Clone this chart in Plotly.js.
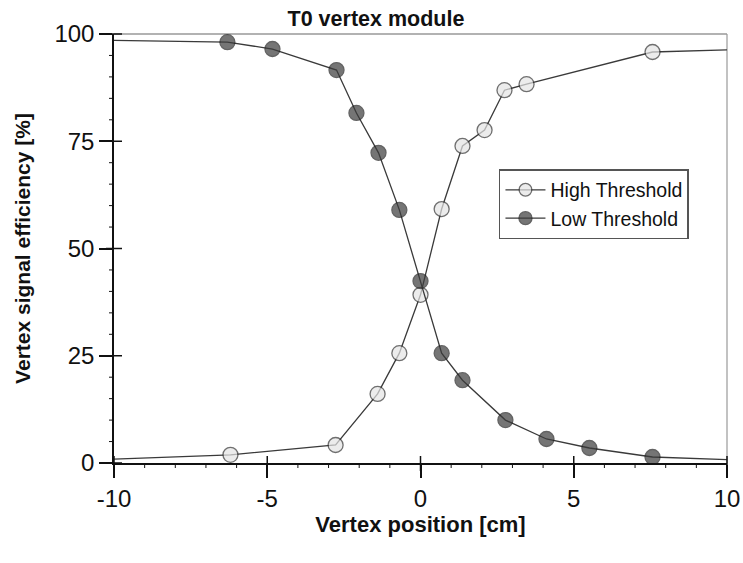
<!DOCTYPE html>
<html><head><meta charset="utf-8">
<script src="https://cdn.plot.ly/plotly-3.0.1.min.js"></script>
<style>body{margin:0;background:#fff}#chart{width:743px;height:563px}</style>
</head><body><div id="chart"></div>
<script>
const highX = [-10, -6.2, -2.77, -1.4, -0.69, 0, 0.69, 1.37, 2.09, 2.74, 3.46, 7.57, 10];
const highY = [0.9, 1.9, 4.2, 16.1, 25.6, 39.2, 59.2, 73.9, 77.6, 86.9, 88.3, 95.8, 96.3];
const highMarker = [false, true, true, true, true, true, true, true, true, true, true, true, false];
const lowX = [-10, -6.3, -4.83, -2.74, -2.09, -1.37, -0.69, 0, 0.69, 1.37, 2.77, 4.11, 5.51, 7.57, 10];
const lowY = [98.5, 98.1, 96.5, 91.6, 81.6, 72.3, 59.0, 42.4, 25.6, 19.3, 10.0, 5.6, 3.5, 1.4, 0.8];
const lowMarker = [false, true, true, true, true, true, true, true, true, true, true, true, true, true, false];
const xTicks = [-10, -5, 0, 5, 10];
const xTickText = ['-10', '-5', '0', '5', '10'];
const yTicks = [0, 25, 50, 75, 100];
const yTickText = ['0', '25', '50', '75', '100'];
const xRange = [-10, 10];
const yRange = [0, 100];
const xMinorStep = 1;
const yMinorStep = 5;

const font = "Liberation Sans, Arial, sans-serif";
function sizes(flags){return flags.map(f => f ? 15 : 0);}
const traces = [
  {x: highX, y: highY, name: 'High Threshold', mode: 'lines+markers',
   line: {color: '#3a3a3a', width: 1.3},
   marker: {size: sizes(highMarker), color: '#e4e4e4', line: {color: '#333', width: 1.3}}},
  {x: lowX, y: lowY, name: 'Low Threshold', mode: 'lines+markers',
   line: {color: '#3a3a3a', width: 1.3},
   marker: {size: sizes(lowMarker), color: '#3c3c3c', line: {color: '#222', width: 1.3}}}
];

// tick marks built from the tick arrays (paper fractions from the axis ranges)
function fx(v){return (v - xRange[0]) / (xRange[1] - xRange[0]);}
function fy(v){return (v - yRange[0]) / (yRange[1] - yRange[0]);}
const tickShapes = [];
for (let v = xRange[0]; v <= xRange[1] + 1e-9; v += xMinorStep) {
  const major = xTicks.includes(v);
  tickShapes.push({type: 'line', xref: 'paper', yref: 'paper', x0: fx(v), x1: fx(v),
    ysizemode: 'pixel', yanchor: 0, y0: major ? -8 : -5, y1: major ? 7 : 0,
    line: {color: '#111', width: major ? 1.5 : 1}, layer: 'above'});
}
for (let v = yRange[0]; v <= yRange[1] + 1e-9; v += yMinorStep) {
  const major = yTicks.includes(v);
  tickShapes.push({type: 'line', xref: 'paper', yref: 'paper', y0: fy(v), y1: fy(v),
    xsizemode: 'pixel', xanchor: 0, x0: major ? -8 : -5, x1: major ? 8 : 0,
    line: {color: '#111', width: major ? 1.5 : 1}, layer: 'above'});
}

const layout = {
  width: 743, height: 563,
  margin: {l: 114, r: 16, t: 34, b: 100},
  paper_bgcolor: '#fff', plot_bgcolor: '#fff',
  font: {family: font, color: '#111'},
  title: {text: '<b>T0 vertex module</b>', x: 0.506, xanchor: 'center', y: 0.968, yanchor: 'middle',
          font: {size: 21.5, family: font, color: '#111'}},
  xaxis: {range: xRange, tickmode: 'array', tickvals: xTicks, ticktext: xTickText, showgrid: false, zeroline: false,
          showline: true, linecolor: '#111', linewidth: 2.2, ticks: 'outside', ticklen: 13, tickwidth: 1.5, tickcolor: '#111',
          tickfont: {size: 24, family: font, color: '#111'},
          title: {text: '<b>Vertex position [cm]</b>', font: {size: 22, family: font, color: '#111'}, standoff: 6}},
  yaxis: {range: yRange, tickmode: 'array', tickvals: yTicks, ticktext: yTickText, showgrid: false, zeroline: false,
          showline: true, linecolor: '#111', linewidth: 1.5, ticks: 'outside', ticklen: 13, tickwidth: 1.5, tickcolor: '#111',
          tickfont: {size: 24, family: font, color: '#111'},
          title: {text: '<b>Vertex signal efficiency [%]</b>', font: {size: 21, family: font, color: '#111'}, standoff: 18}},
  shapes: [
    {type: 'line', xref: 'paper', yref: 'paper', x0: 0, x1: 1, y0: 1, y1: 1, line: {color: '#999', width: 1.5}, layer: 'below'},
    {type: 'line', xref: 'paper', yref: 'paper', x0: 1, x1: 1, y0: 0, y1: 1, line: {color: '#999', width: 1.2}, layer: 'below'}
  ].concat(tickShapes),
  legend: {x: 0.628, y: 0.685, xanchor: 'left', yanchor: 'top', bgcolor: '#fff', bordercolor: '#555', borderwidth: 1.5,
           font: {size: 19.5, family: font, color: '#111'}, tracegroupgap: 6, itemwidth: 40},
  showlegend: true
};
Plotly.newPlot('chart', traces, layout, {displayModeBar: false});
</script></body></html>
